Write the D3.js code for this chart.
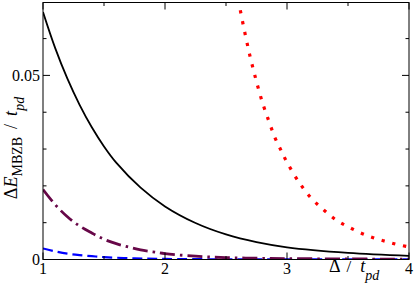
<!DOCTYPE html>
<html><head><meta charset="utf-8">
<script src="https://cdn.jsdelivr.net/npm/d3@7"></script>
<style>
html,body{margin:0;padding:0;background:#fff;}
svg{display:block;font-family:"Liberation Serif","Times New Roman",serif;}
</style></head>
<body>
<svg id="chart" width="415" height="291"></svg>
<script>
// Data
const blackX = [1.0, 1.1, 1.2, 1.3, 1.4, 1.5, 1.6, 1.8, 2.0, 2.25, 2.5, 2.75, 3.0, 3.5, 4.0];
const blackY = [0.0672, 0.0574, 0.0491, 0.0420, 0.0359, 0.0307, 0.0263, 0.0195, 0.0144, 0.0099, 0.0068, 0.0047, 0.0033, 0.0018, 0.0010];

const redX = [2.6, 2.65, 2.7, 2.75, 2.8, 2.85, 2.9, 2.95, 3.0, 3.1, 3.2, 3.3, 3.4, 3.5, 3.6, 3.7, 3.8, 3.9, 4.0];
const redY = [0.0706, 0.0623, 0.0548, 0.0483, 0.0425, 0.0377, 0.0332, 0.0297, 0.0264, 0.0209, 0.0166, 0.0135, 0.0108, 0.0089, 0.0073, 0.0060, 0.0050, 0.0041, 0.0034];

const purpleX = [1.0, 1.1, 1.2, 1.3, 1.4, 1.5, 1.6, 1.7, 1.8, 1.9, 2.0, 2.25, 2.5, 2.75, 3.0, 3.5, 4.0];
const purpleY = [0.0190, 0.0149, 0.0116, 0.0091, 0.0072, 0.0055, 0.0043, 0.0034, 0.0026, 0.0021, 0.0016, 0.0009, 0.0005, 0.00035, 0.00025, 0.00015, 0.0001];

const blueX = [1.0, 1.1, 1.2, 1.3, 1.4, 1.5, 1.75, 2.0, 2.5, 3.0, 4.0];
const blueY = [0.0030, 0.0022, 0.0016, 0.0012, 0.0009, 0.00065, 0.0003, 0.00015, 0.00005, 0.00002, 0.00001];

const xMajor = [1, 2, 3, 4];
const xMinor = [1.5, 2.5, 3.5];
const yMajor = [0, 0.05];
const yMajorLabels = ["0", "0.05"];
const yMinor = [0.01, 0.02, 0.03, 0.04, 0.06];

const svg = d3.select("#chart");
const L = 43, R = 409, T = 2.5, B = 259.5;
const x = d3.scaleLinear().domain([1, 4]).range([L, R]);
const y = d3.scaleLinear().domain([0, 0.0698]).range([B, T]);

svg.append("defs").append("clipPath").attr("id", "clip")
  .append("rect").attr("x", L).attr("y", T).attr("width", R - L).attr("height", B - T);

const line = d3.line().x(d => x(d[0])).y(d => y(d[1])).curve(d3.curveCatmullRom.alpha(0.5));
const g = svg.append("g").attr("clip-path", "url(#clip)");

function series(xs, ys, color, width, dash, cap) {
  g.append("path")
    .datum(xs.map((v, i) => [v, ys[i]]))
    .attr("d", line)
    .attr("fill", "none")
    .attr("stroke", color)
    .attr("stroke-width", width)
    .attr("stroke-dasharray", dash)
    .attr("stroke-linecap", cap || "butt");
}
series(blueX, blueY, "#0000ff", 2.2, "10,5");
series(purpleX, purpleY, "#670748", 2.8, "15,5,2.5,5");
series(blackX, blackY, "#000000", 1.8, null);
series(redX, redY, "#ff0000", 3.2, "3.2,7.8");

// Frame
const fr = svg.append("g").attr("fill", "none").attr("stroke", "#000").attr("stroke-width", 1);
fr.append("rect").attr("x", L).attr("y", T).attr("width", R - L).attr("height", B - T);

// Ticks (inward, both sides)
const tk = svg.append("g").attr("stroke", "#000").attr("stroke-width", 1);
function xt(v, len) {
  tk.append("line").attr("x1", x(v)).attr("x2", x(v)).attr("y1", B).attr("y2", B - len);
  tk.append("line").attr("x1", x(v)).attr("x2", x(v)).attr("y1", T).attr("y2", T + len);
}
function yt(v, len) {
  tk.append("line").attr("y1", y(v)).attr("y2", y(v)).attr("x1", L).attr("x2", L + len);
  tk.append("line").attr("y1", y(v)).attr("y2", y(v)).attr("x1", R).attr("x2", R - len);
}
xMajor.forEach(v => xt(v, 7));
xMinor.forEach(v => xt(v, 3.5));
yMajor.forEach(v => yt(v, 7));
yMinor.forEach(v => yt(v, 3.5));

// Tick labels
const lab = svg.append("g").attr("fill", "#000").attr("font-size", 16);
xMajor.forEach(v => lab.append("text").attr("x", x(v)).attr("y", 274)
  .attr("text-anchor", "middle").text(String(v)));
yMajor.forEach((v, i) => lab.append("text").attr("x", 40).attr("y", y(v) + 5.5)
  .attr("text-anchor", "end").text(yMajorLabels[i]));

// X axis title
const xt1 = svg.append("text").attr("x", 329).attr("y", 272).attr("font-size", 18).attr("fill", "#000");
xt1.append("tspan").text("Δ");
xt1.append("tspan").attr("dx", 6).attr("font-size", 17).text("/");
xt1.append("tspan").attr("dx", 9).attr("font-style", "italic").text("t");
xt1.append("tspan").attr("dy", 8).attr("font-size", 14).attr("font-style", "italic").text("pd");

// Y axis title
const yl = svg.append("text").attr("transform", "translate(17,148) rotate(-90)")
  .attr("text-anchor", "middle").attr("font-size", 18).attr("fill", "#000");
yl.append("tspan").text("Δ");
yl.append("tspan").attr("font-style", "italic").text("E");
yl.append("tspan").attr("dy", 5).attr("font-size", 14).text("MBZB");
yl.append("tspan").attr("dy", -5).attr("dx", 8).text("/");
yl.append("tspan").attr("dx", 8).attr("font-style", "italic").text("t");
yl.append("tspan").attr("dy", 7).attr("font-size", 14).attr("font-style", "italic").text("pd");
</script>
</body></html>
